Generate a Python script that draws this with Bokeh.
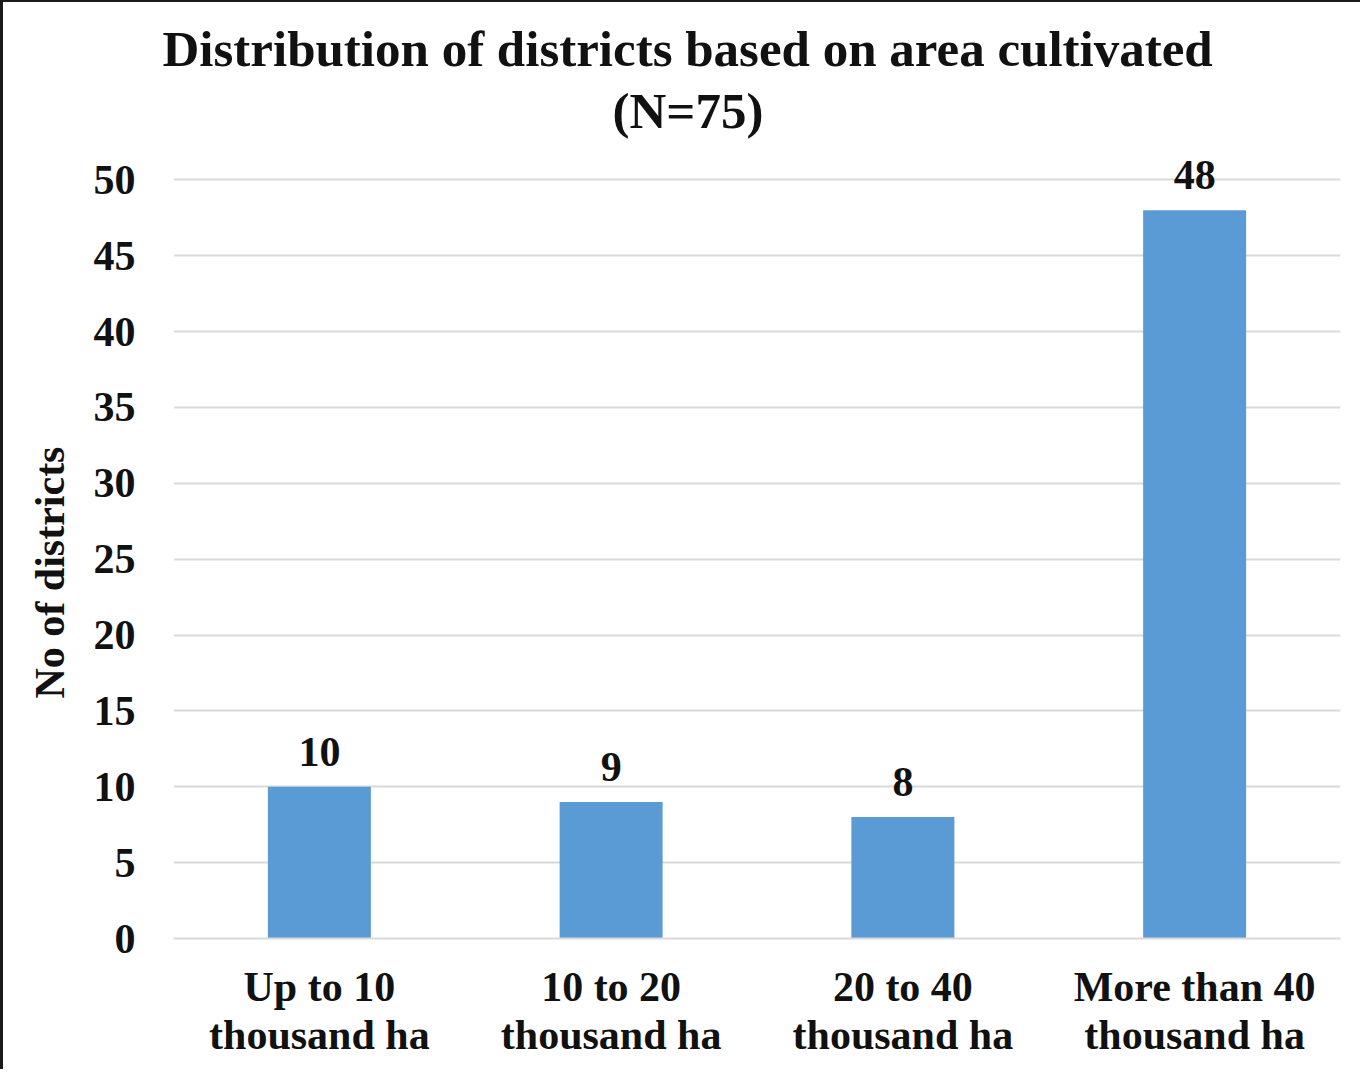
from bokeh.plotting import figure
from bokeh.models import Title, FixedTicker, Range1d, ColumnDataSource, LabelSet
from bokeh.embed import file_html
from bokeh.resources import INLINE

categories = ["Up to 10\nthousand ha", "10 to 20\nthousand ha", "20 to 40\nthousand ha", "More than 40\nthousand ha"]
counts = [10, 9, 8, 48]
y_ticks = [0, 5, 10, 15, 20, 25, 30, 35, 40, 45, 50]
title_line1 = "Distribution of districts based on area cultivated"
title_line2 = "(N=75)"
y_label = "No of districts"

FONT = "Liberation Serif"
INK = "#111111"

src = ColumnDataSource(dict(cat=categories, val=counts, lab=[str(v) for v in counts]))

p = figure(x_range=categories, y_range=Range1d(0, 52),
           frame_width=1167, frame_height=789,
           min_border_left=170, min_border_right=20, min_border_top=147, min_border_bottom=131,
           output_backend="svg", toolbar_location=None, title=None,
           styles={"border-left": "3px solid #1a1a1a", "border-top": "2px solid #1a1a1a"})
p.outline_line_color = None
p.background_fill_color = "white"
p.border_fill_color = "white"
p.x_range.range_padding = 0

p.vbar(x="cat", top="val", width=0.353, source=src, fill_color="#5b9bd5", line_color=None)
labels = LabelSet(x="cat", y="val", text="lab", source=src, text_align="center",
                  text_baseline="alphabetic", y_offset=21, text_font=FONT,
                  text_font_style="bold", text_font_size="42px", text_color=INK)
p.add_layout(labels)

p.yaxis.ticker = FixedTicker(ticks=y_ticks)
p.ygrid.ticker = FixedTicker(ticks=y_ticks)
p.ygrid.grid_line_color = "#d9d9d9"
p.ygrid.grid_line_width = 2
p.xgrid.grid_line_color = None

for ax in (p.xaxis, p.yaxis):
    ax.axis_line_color = None
    ax.major_tick_line_color = None
    ax.minor_tick_line_color = None
    ax.major_tick_out = 0
    ax.major_tick_in = 0
    ax.major_label_text_font = FONT
    ax.major_label_text_font_style = "bold"
    ax.major_label_text_font_size = "42px"
    ax.major_label_text_color = INK

p.xaxis.axis_line_color = "#d9d9d9"
p.xaxis.axis_line_width = 2
p.xaxis.major_label_text_line_height = 1.05
p.yaxis.major_label_standoff = 38
p.xaxis.major_label_standoff = 25

# y axis title as a left-side title so it can sit slightly below the frame centre
p.add_layout(Title(text=y_label, align="left", offset=240, standoff=36, text_font=FONT,
                   text_font_style="bold", text_font_size="42px", text_color=INK), "left")

p.add_layout(Title(text=title_line2, align="center", text_font=FONT, text_font_style="bold",
                   text_font_size="51px", text_color=INK, standoff=22), "above")
p.add_layout(Title(text=title_line1, align="left", offset=-11, text_font=FONT, text_font_style="bold",
                   text_font_size="51px", text_color=INK, standoff=-15), "above")
p.above[-2].align = "left"
p.above[-2].offset = 439

open("out.html", "w").write(file_html(p, INLINE))
